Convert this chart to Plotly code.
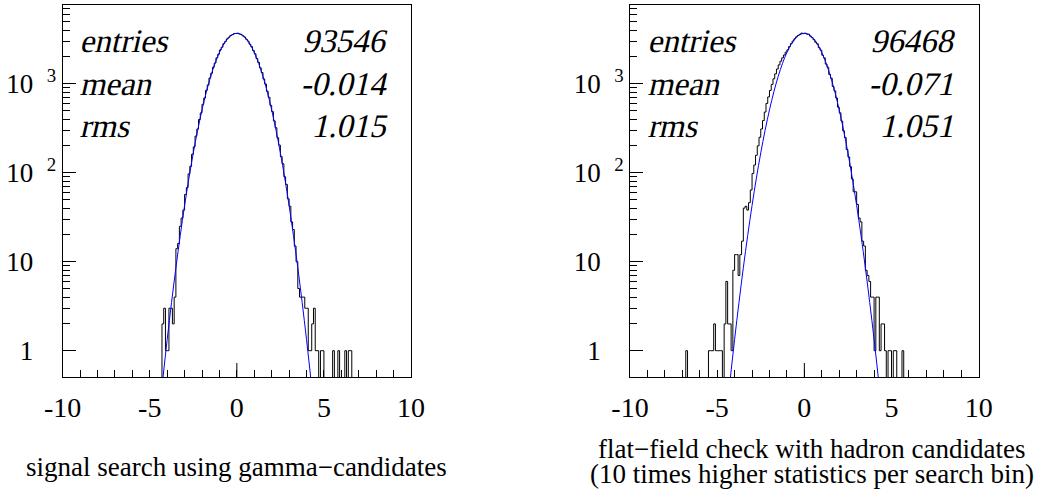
import plotly.graph_objects as go

# ---------------- data ----------------
bin_width = 0.1

left_first_edge = -4.3
left_counts = [
    2, 3, 1, 1, 3, 3, 2, 4, 14, 16,
    25, 31, 38, 57, 68, 97, 118, 161, 195, 258,
    309, 396, 470, 588, 690, 842, 968, 1158, 1310, 1530,
    1705, 1950, 2140, 2390, 2570, 2815, 2980, 3190, 3320, 3480,
    3550, 3650, 3660, 3690, 3620, 3580, 3450, 3345, 3160, 3010,
    2780, 2605, 2360, 2165, 1920, 1735, 1505, 1335, 1130, 990,
    820, 705, 571, 485, 382, 320, 247, 204, 152, 126,
    90, 74, 51, 42, 28, 23, 15, 10, 5, 4,
    4, 4, 3, 3, 1, 1, 2, 3, 1, 1,
    0, 1, 1, 0, 0, 0, 0, 0, 1, 0,
    0, 1, 0, 0, 0, 1, 0, 1, 1,
]

right_first_edge = -6.8
right_counts = [
    1, 0, 0, 0, 0, 0, 0, 0, 0, 0,
    0, 0, 0, 1, 1, 1, 2, 1, 1, 1,
    1, 0, 2, 6, 2, 2, 1, 8, 12, 12,
    7, 12, 17, 40, 42, 38, 46, 64, 98, 122,
    157, 200, 250, 310, 385, 480, 600, 710, 840, 980,
    1135, 1290, 1460, 1625, 1790, 1950, 2100, 2260, 2400, 2610,
    2820, 3010, 3190, 3360, 3490, 3580, 3700, 3650, 3690, 3610,
    3595, 3420, 3290, 3120, 2920, 2800, 2540, 2380, 2090, 1950,
    1660, 1530, 1270, 1150, 930, 830, 690, 545, 470, 380,
    295, 248, 182, 150, 117, 85, 61, 61, 44, 31,
    28, 17, 15, 8, 7, 6, 4, 4, 1, 4,
    4, 1, 2, 2, 1, 0, 1, 1, 0, 1,
    1, 0, 0, 0, 1,
]

fit_x = [-4.5, -4.25, -4.0, -3.75, -3.5, -3.25, -3.0, -2.75, -2.5, -2.25,
         -2.0, -1.75, -1.5, -1.25, -1.0, -0.75, -0.5, -0.25, 0.0, 0.25,
         0.5, 0.75, 1.0, 1.25, 1.5, 1.75, 2.0, 2.25, 2.5, 2.75,
         3.0, 3.25, 3.5, 3.75, 4.0, 4.25, 4.5]
fit_left = [0.164, 0.481, 1.34, 3.48, 8.55, 19.7, 42.8, 87.1, 166.8, 300,
            508, 808, 1208, 1698, 2243, 2785, 3252, 3568, 3680, 3568,
            3252, 2785, 2243, 1698, 1208, 808, 508, 300, 166.8, 87.1,
            42.8, 19.7, 8.55, 3.48, 1.34, 0.481, 0.164]
fit_right = [0.164, 0.481, 1.34, 3.48, 8.55, 19.7, 42.8, 87.1, 166.8, 300,
             508, 808, 1208, 1698, 2243, 2785, 3252, 3568, 3680, 3568,
             3252, 2785, 2243, 1698, 1208, 808, 508, 300, 166.8, 87.1,
             42.8, 19.7, 8.55, 3.48, 1.34, 0.481, 0.164]

x_tick_vals = [-10, -5, 0, 5, 10]
x_tick_text = ["-10", "-5", "0", "5", "10"]
y_tick_vals = [1, 10, 100, 1000]
NB = "\u00a0"
y_tick_text = ["1" + NB * 2 + "<sup>" + NB * 2 + "</sup>",
               "10" + NB * 2 + "<sup>" + NB * 2 + "</sup>",
               "10" + NB * 2 + "<sup>2</sup>",
               "10" + NB * 2 + "<sup>3</sup>"]

stat_labels = ["entries", "mean", "rms"]
left_stats = ["93546", "-0.014", "1.015"]
right_stats = ["96468", "-0.071", "1.051"]

left_caption = ["signal search using gamma\u2212candidates"]
right_caption = ["flat\u2212field check with hadron candidates",
                 "(10 times higher statistics per search bin)"]

# ---------------- layout geometry ----------------
W, H = 1039, 490
FONT = "Liberation Serif"
y_min_log, y_max_log = -0.2955, 3.884
floor_val = 1e-3


def px_x(p):
    return p / W


def px_y(p):
    return 1 - p / H


def step_xy(first_edge, counts):
    xs = [-10.0]
    ys = [floor_val]
    for i, c in enumerate(counts):
        xs.append(round(first_edge + i * bin_width, 3))
        ys.append(c if c > 0 else floor_val)
    xs.append(round(first_edge + len(counts) * bin_width, 3))
    ys.append(floor_val)
    xs.append(10.0)
    ys.append(floor_val)
    return xs, ys


fig = go.Figure()

panels = [
    dict(x="x", y="y", first=left_first_edge, counts=left_counts, fit=fit_left),
    dict(x="x2", y="y2", first=right_first_edge, counts=right_counts, fit=fit_right),
]
for p in panels:
    hx, hy = step_xy(p["first"], p["counts"])
    fig.add_trace(go.Scatter(x=hx, y=hy, mode="lines", line=dict(color="black", width=1, shape="hv"),
                             xaxis=p["x"], yaxis=p["y"], showlegend=False, hoverinfo="skip"))
    fig.add_trace(go.Scatter(x=fit_x, y=p["fit"], mode="lines",
                             line=dict(color="#0000ff", width=1, shape="spline", smoothing=1.0),
                             xaxis=p["x"], yaxis=p["y"], showlegend=False, hoverinfo="skip"))

minor_y = [m * 10 ** k for k in range(0, 4) for m in range(2, 10)]

xaxis_common = dict(range=[-10, 10], showgrid=False, zeroline=False, showline=True, linecolor="black",
                    linewidth=1, mirror=True, ticks="inside", ticklen=7, tickcolor="black",
                    tickmode="array", tickvals=x_tick_vals, ticktext=x_tick_text,
                    tickfont=dict(family=FONT, size=28, color="black"), ticklabelstandoff=5,
                    minor=dict(ticks="inside", ticklen=7, dtick=1, tickcolor="black", showgrid=False),
                    automargin=False)
yaxis_common = dict(type="log", range=[y_min_log, y_max_log], showgrid=False, zeroline=False,
                    showline=True, linecolor="black", linewidth=1, mirror=True,
                    ticks="inside", ticklen=13, tickcolor="black",
                    tickmode="array", tickvals=y_tick_vals, ticktext=y_tick_text,
                    tickfont=dict(family=FONT, size=27, color="black"),
                    minor=dict(ticks="inside", ticklen=7, tickmode="array", tickvals=minor_y,
                               tickcolor="black", showgrid=False),
                    automargin=False)

ydom = [px_y(377), px_y(5)]
fig.update_layout(
    width=W, height=H, margin=dict(l=0, r=0, t=0, b=0, autoexpand=False), autosize=False,
    paper_bgcolor="white", plot_bgcolor="white",
    xaxis={**xaxis_common, "domain": [px_x(62.7), px_x(411)], "anchor": "y"},
    yaxis={**yaxis_common, "domain": ydom, "anchor": "x"},
    xaxis2={**xaxis_common, "domain": [px_x(630), px_x(978.7)], "anchor": "y2"},
    yaxis2={**yaxis_common, "domain": ydom, "anchor": "x2"},
)

# longer primary tick at x = 0 on both panels (ROOT style)
for xr, yr in [("x", "y domain"), ("x2", "y2 domain")]:
    fig.add_shape(type="line", xref=xr, yref=yr, x0=0, x1=0, y0=0, y1=14 / 372,
                  line=dict(color="black", width=1))

annots = []
baselines = [52, 95, 137]
for (lx, rx, vals) in [(80, 390, left_stats), (648, 958, right_stats)]:
    for lab, val, b in zip(stat_labels, vals, baselines):
        annots.append(dict(x=px_x(lx), y=px_y(b - 11), xref="paper", yref="paper", xanchor="left",
                           yanchor="middle", text=lab, showarrow=False,
                           font=dict(family=FONT, size=33, color="black")))
        annots.append(dict(x=px_x(rx), y=px_y(b - 11), xref="paper", yref="paper", xanchor="right",
                           yanchor="middle", text=val, showarrow=False,
                           font=dict(family=FONT, size=33, color="black")))
n_stat_annots = len(annots)

annots.append(dict(x=px_x(236), y=px_y(475 - 8), xref="paper", yref="paper", xanchor="center",
                   yanchor="middle", text=left_caption[0], showarrow=False,
                   font=dict(family=FONT, size=27, color="black")))
for line, b in zip(right_caption, [457, 482]):
    annots.append(dict(x=px_x(812), y=px_y(b - 8), xref="paper", yref="paper", xanchor="center",
                       yanchor="middle", text=line, showarrow=False,
                       font=dict(family=FONT, size=27, color="black")))
fig.update_layout(annotations=annots)

# The serif italic face is not installed: slant the (serif) statistics text instead.
post = (
    "document.body.style.margin='0px';"
    "document.querySelectorAll('g.annotation').forEach(function(g){"
    "var i=+g.getAttribute('data-index');"
    "if(i<" + str(n_stat_annots) + "){var t=g.querySelector('text.annotation-text');"
    "if(t){t.style.transformBox='fill-box';t.style.transformOrigin='50% 50%';"
    "t.style.transform='skewX(-13deg)';}}});"
)
fig.write_html("out.html", post_script=post, config={"displayModeBar": False})
